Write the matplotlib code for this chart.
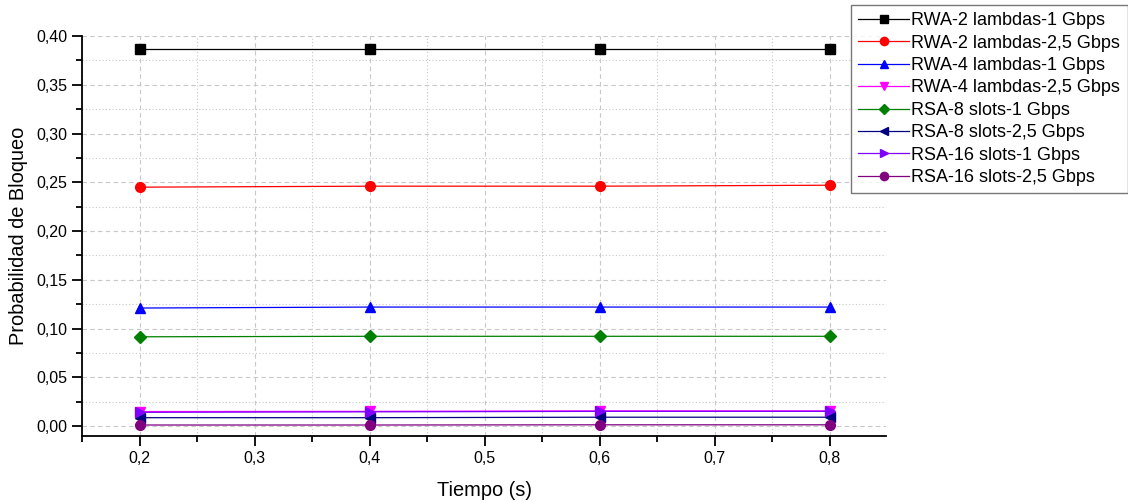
import matplotlib.pyplot as plt
from matplotlib.ticker import MultipleLocator, FuncFormatter

plt.rcParams['font.family'] = ['Liberation Sans', 'DejaVu Sans']

tiempo = [0.2, 0.4, 0.6, 0.8]

rwa2_1g = [0.387, 0.387, 0.387, 0.387]
rwa2_25g = [0.245, 0.246, 0.246, 0.247]
rwa4_1g = [0.121, 0.122, 0.122, 0.122]
rwa4_25g = [0.0148, 0.0150, 0.0155, 0.0155]
rsa8_1g = [0.0915, 0.0920, 0.0920, 0.0920]
rsa8_25g = [0.0085, 0.0085, 0.0090, 0.0090]
rsa16_1g = [0.0140, 0.0145, 0.0150, 0.0150]
rsa16_25g = [0.0010, 0.0010, 0.0012, 0.0012]

series = [
    ('RWA-2 lambdas-1 Gbps', rwa2_1g, 'black', 's'),
    ('RWA-2 lambdas-2,5 Gbps', rwa2_25g, 'red', 'o'),
    ('RWA-4 lambdas-1 Gbps', rwa4_1g, 'blue', '^'),
    ('RWA-4 lambdas-2,5 Gbps', rwa4_25g, 'magenta', 'v'),
    ('RSA-8 slots-1 Gbps', rsa8_1g, '#008000', 'D'),
    ('RSA-8 slots-2,5 Gbps', rsa8_25g, '#000080', '<'),
    ('RSA-16 slots-1 Gbps', rsa16_1g, '#8000ff', '>'),
    ('RSA-16 slots-2,5 Gbps', rsa16_25g, '#800080', 'o'),
]

fig = plt.figure(figsize=(11.28, 5.01), dpi=100)
ax = fig.add_axes([0.0727, 0.1297, 0.7128, 0.7983])

for label, vals, col, mk in series:
    ms = 6 if mk == 'D' else 7
    ax.plot(tiempo, vals, color=col, marker=mk, markersize=ms, linewidth=0.9, label=label)

ax.set_xlim(0.15, 0.849)
ax.set_ylim(-0.0103, 0.40)
ax.xaxis.set_major_locator(MultipleLocator(0.1))
ax.xaxis.set_minor_locator(MultipleLocator(0.05))
ax.yaxis.set_major_locator(MultipleLocator(0.05))
ax.yaxis.set_minor_locator(MultipleLocator(0.025))
ax.xaxis.set_major_formatter(FuncFormatter(lambda v, p: ('%.1f' % v).replace('.', ',')))
ax.yaxis.set_major_formatter(FuncFormatter(lambda v, p: ('%.2f' % v).replace('.', ',')))

ax.grid(which='major', color='#c8c8c8', linestyle=(0, (4, 3)), linewidth=0.8)
ax.grid(which='minor', color='#c8c8c8', linestyle=(0, (1, 2)), linewidth=0.8)
ax.set_axisbelow(True)

ax.spines['top'].set_visible(False)
ax.spines['right'].set_visible(False)
ax.spines['left'].set_linewidth(1.3)
ax.spines['bottom'].set_linewidth(1.3)
ax.tick_params(which='major', direction='out', length=7, width=1.3, labelsize=11.5, colors='black')
ax.tick_params(which='minor', direction='out', length=4, width=1.3)

ax.set_xlabel('Tiempo (s)', fontsize=14.4, labelpad=11)
ax.set_ylabel('Probabilidad de Bloqueo', fontsize=14.4, labelpad=6)

leg = fig.legend(loc='upper left', bbox_to_anchor=(851 / 1128, 1 - 5 / 501),
                 fontsize=13, frameon=True, fancybox=False, edgecolor='#555555',
                 handlelength=2.8, handletextpad=0.15, labelspacing=0.3, borderpad=0.4,
                 borderaxespad=0, markerscale=0.85)
leg.get_frame().set_linewidth(1.0)

fig.savefig('out.png', dpi=100)
